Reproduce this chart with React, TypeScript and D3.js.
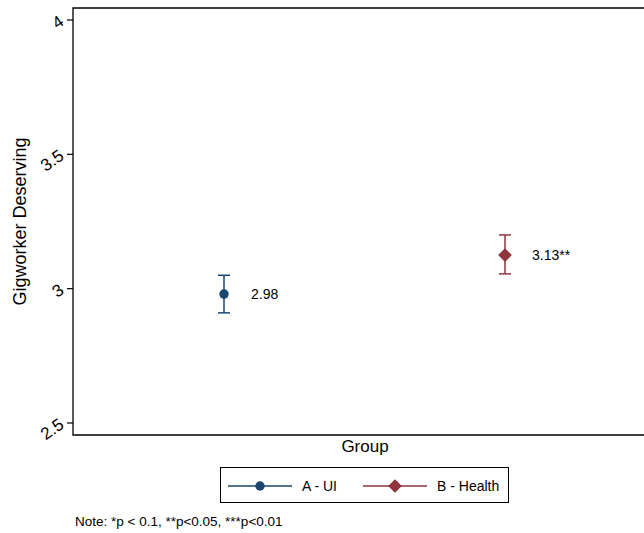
import React, { useEffect, useRef } from 'react';
import * as d3 from 'd3';

const groups = ['A - UI', 'B - Health'];
const means = [2.98, 3.125];
const lower = [2.91, 3.055];
const upper = [3.05, 3.2];
const valueLabels = ['2.98', '3.13**'];
const colors = ['#1a476f', '#90353b'];
const yTicks = [2.5, 3, 3.5, 4];
const yTickLabels = ['2.5', '3', '3.5', '4'];

const FONT = '"Liberation Sans", Arial, Helvetica, sans-serif';

const App = () => {
  const ref = useRef<SVGSVGElement | null>(null);

  useEffect(() => {
    if (ref.current) drawChart(ref.current);
  }, []);

  return (
    <svg
      ref={ref}
      width={644}
      height={533}
      style={{ position: 'absolute', left: 0, top: 0, background: '#fff' }}
    />
  );
};

function drawChart(el: SVGSVGElement) {
  const svg = d3.select(el);
  svg.selectAll('*').remove();

  // plot area (right side runs past the picture edge, as in the reference)
  const left = 73, right = 656, top = 8, bottom = 435;

  const y = d3.scaleLinear().domain([2.5, 4]).range([423, 20]);
  const x = d3.scalePoint<string>().domain(groups).range([224, 505]);

  // frame: top, left, bottom
  svg.append('path')
    .attr('d', `M${right},${top}H${left}V${bottom}H${right}`)
    .attr('fill', 'none')
    .attr('stroke', '#000')
    .attr('stroke-width', 1.3);

  // y axis ticks
  const yAxis = svg.append('g');
  yTicks.forEach((t, i) => {
    const yy = y(t);
    yAxis.append('line')
      .attr('x1', left - 6).attr('x2', left)
      .attr('y1', yy).attr('y2', yy)
      .attr('stroke', '#000').attr('stroke-width', 1.2);
    yAxis.append('text')
      .attr('transform', `translate(${left - 8},${yy + 4}) rotate(-35)`)
      .attr('text-anchor', 'end')
      .attr('font-family', FONT)
      .attr('font-size', 17)
      .attr('fill', '#000')
      .text(yTickLabels[i]);
  });

  // axis titles
  svg.append('text')
    .attr('transform', `translate(26,${(top + bottom) / 2}) rotate(-90)`)
    .attr('text-anchor', 'middle')
    .attr('font-family', FONT)
    .attr('font-size', 18)
    .text('Gigworker Deserving');

  svg.append('text')
    .attr('x', 365)
    .attr('y', 452)
    .attr('text-anchor', 'middle')
    .attr('font-family', FONT)
    .attr('font-size', 17)
    .text('Group');

  // error bars, markers, value labels
  const cap = 6;
  groups.forEach((g, i) => {
    const cx = x(g) as number;
    const gg = svg.append('g');
    gg.append('line')
      .attr('x1', cx).attr('x2', cx)
      .attr('y1', y(lower[i])).attr('y2', y(upper[i]))
      .attr('stroke', colors[i]).attr('stroke-width', 1.5);
    [lower[i], upper[i]].forEach(v => {
      gg.append('line')
        .attr('x1', cx - cap).attr('x2', cx + cap)
        .attr('y1', y(v)).attr('y2', y(v))
        .attr('stroke', colors[i]).attr('stroke-width', 1.5);
    });
    const sym = i === 0 ? d3.symbolCircle : d3.symbolDiamond2;
    const size = i === 0 ? 70 : 120;
    gg.append('path')
      .attr('d', d3.symbol().type(sym).size(size)())
      .attr('transform', `translate(${cx},${y(means[i])})`)
      .attr('fill', colors[i]);
    gg.append('text')
      .attr('x', cx + 27)
      .attr('y', y(means[i]) + 5)
      .attr('font-family', FONT)
      .attr('font-size', 14)
      .attr('fill', '#000')
      .text(valueLabels[i]);
  });

  // legend
  const lg = svg.append('g');
  lg.append('rect')
    .attr('x', 220.5).attr('y', 467.5)
    .attr('width', 288).attr('height', 35)
    .attr('fill', '#fff').attr('stroke', '#000').attr('stroke-width', 1);
  const legendX = [228, 363];
  groups.forEach((g, i) => {
    const lx = legendX[i];
    const ly = 486;
    lg.append('line')
      .attr('x1', lx).attr('x2', lx + 64)
      .attr('y1', ly).attr('y2', ly)
      .attr('stroke', colors[i]).attr('stroke-width', 1.5);
    const sym = i === 0 ? d3.symbolCircle : d3.symbolDiamond2;
    const size = i === 0 ? 70 : 120;
    lg.append('path')
      .attr('d', d3.symbol().type(sym).size(size)())
      .attr('transform', `translate(${lx + 32},${ly})`)
      .attr('fill', colors[i]);
    lg.append('text')
      .attr('x', lx + 74)
      .attr('y', ly + 5)
      .attr('font-family', FONT)
      .attr('font-size', 14)
      .text(g);
  });

  // note
  svg.append('text')
    .attr('x', 75)
    .attr('y', 526)
    .attr('font-family', FONT)
    .attr('font-size', 13.5)
    .text('Note: *p < 0.1, **p<0.05, ***p<0.01');
}

export default App;
